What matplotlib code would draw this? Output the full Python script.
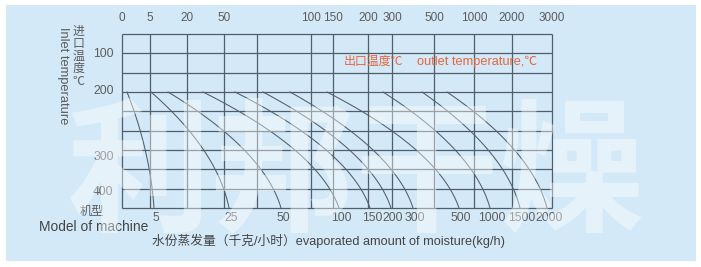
import matplotlib
matplotlib.use("Agg")
import matplotlib.pyplot as plt
from matplotlib.patches import Rectangle
import numpy as np

# ---- chart content -------------------------------------------------------
# outlet temperature scale along the top (column positions in nomogram units)
outlet_labels = ["0", "5", "20", "50", "", "100", "150", "200", "300", "500", "1000", "2000", "3000"]
outlet_pos = [0, 28, 65, 102, 135, 189, 211, 246, 270, 312, 352, 390, 430]

# inlet temperature labels on the left (row units, 0 = top row)
inlet_labels = ["100", "200", "300", "400"]
inlet_pos = [0.98, 2.85, 6.31, 8.12]

# machine models: each curve leaves the 200 °C inlet row and ends at its model mark
models = ["5", "25", "50", "100", "150", "200", "300", "500", "1000", "1500", "2000"]
curve_start = [5, 29, 46, 81, 113, 141, 168, 205, 261, 300, 325]
curve_end = [32, 107, 159, 217, 248, 269, 291, 337, 368, 398, 425]

n_rows = 9
start_row = 3

# ---- styling ---------------------------------------------------------------
W, H, DPI = 701, 267, 100
panel_color = "#d3e9f8"
line_color = "#515d68"
text_gray = "#5c5c5c"
accent = "#e8653f"

plt.rcParams["font.family"] = ["Liberation Sans", "Noto Sans CJK SC", "DejaVu Sans"]

fig = plt.figure(figsize=(W / DPI, H / DPI), dpi=DPI, facecolor="white")


def px(x, y):
    """pixel position -> figure fraction"""
    return x / W, 1 - y / H


# light blue panel
fig.patches.append(Rectangle(px(6, 261), 690 / W, 256 / H, transform=fig.transFigure,
                             facecolor=panel_color, edgecolor="none", zorder=-5))

# nomogram axes over the grid area
gx0, gx1, gy0, gy1 = 122, 552, 34, 208
ax = fig.add_axes([gx0 / W, 1 - gy1 / H, (gx1 - gx0) / W, (gy1 - gy0) / H])
ax.set_zorder(1)
ax.set_facecolor("none")
ax.set_xlim(outlet_pos[0], outlet_pos[-1])
ax.set_ylim(n_rows, 0)
for s in ax.spines.values():
    s.set_visible(False)

# grid
ax.vlines(outlet_pos, 0, n_rows, color=line_color, lw=0.9, clip_on=False)
ax.hlines(np.arange(n_rows + 1), outlet_pos[0], outlet_pos[-1], color=line_color, lw=0.9, clip_on=False)

# top scale: outlet temperature
ax.xaxis.tick_top()
ax.set_xticks(outlet_pos)
ax.set_xticklabels(outlet_labels, fontsize=8.5, color=text_gray)
ax.tick_params(axis="x", length=0, pad=7)

# left scale: inlet temperature
ax.set_yticks(inlet_pos)
ax.set_yticklabels(inlet_labels, fontsize=8.8, color=text_gray)
ax.tick_params(axis="y", length=0, pad=6)

# model curves
k = 0.7
s = np.linspace(0, 1, 80)
f = (1 + k) * s - k * s ** 2
for xs, xe, name in zip(curve_start, curve_end, models):
    ax.plot(xs + (xe - xs) * f, start_row + (n_rows - start_row) * s,
            color=line_color, lw=0.75, clip_on=False)
    ax.annotate(name, (xe, n_rows), xytext=(1.5, -7), textcoords="offset points",
                ha="center", va="center", fontsize=8.8, color=text_gray)

# captions
ax.text(222, 1.45, "出口温度℃", fontsize=8.6, color=accent, va="center", ha="left")
ax.text(295, 1.45, "outlet temperature,℃", fontsize=9.2, color=accent, va="center", ha="left")

fig.text(*px(78, 56), "进\n口\n温\n度\n℃", fontsize=8.6, color=text_gray,
         ha="center", va="center", linespacing=0.95, family="Noto Sans CJK SC")
fig.text(*px(63, 76), "Inlet temperature", fontsize=9.3, color=text_gray,
         ha="center", va="center", rotation=270)
fig.text(*px(92, 211), "机型", fontsize=8.8, color=text_gray, ha="center", va="center",
         family="Noto Sans CJK SC")
fig.text(*px(94, 227), "Model of machine", fontsize=9.9, color="#444444", ha="center", va="center")
fig.text(*px(152, 241), "水份蒸发量（千克/小时）evaporated amount of moisture(kg/h)",
         fontsize=9.2, color="#444444", ha="left", va="center")

# translucent company watermark across the chart
fig.text(*px(356, 178), "利邦干燥", fontsize=104, color="white", alpha=0.42,
         ha="center", va="center", family="Noto Sans CJK SC", fontweight="bold", zorder=20)

fig.savefig("out.png", dpi=DPI, facecolor="white")
